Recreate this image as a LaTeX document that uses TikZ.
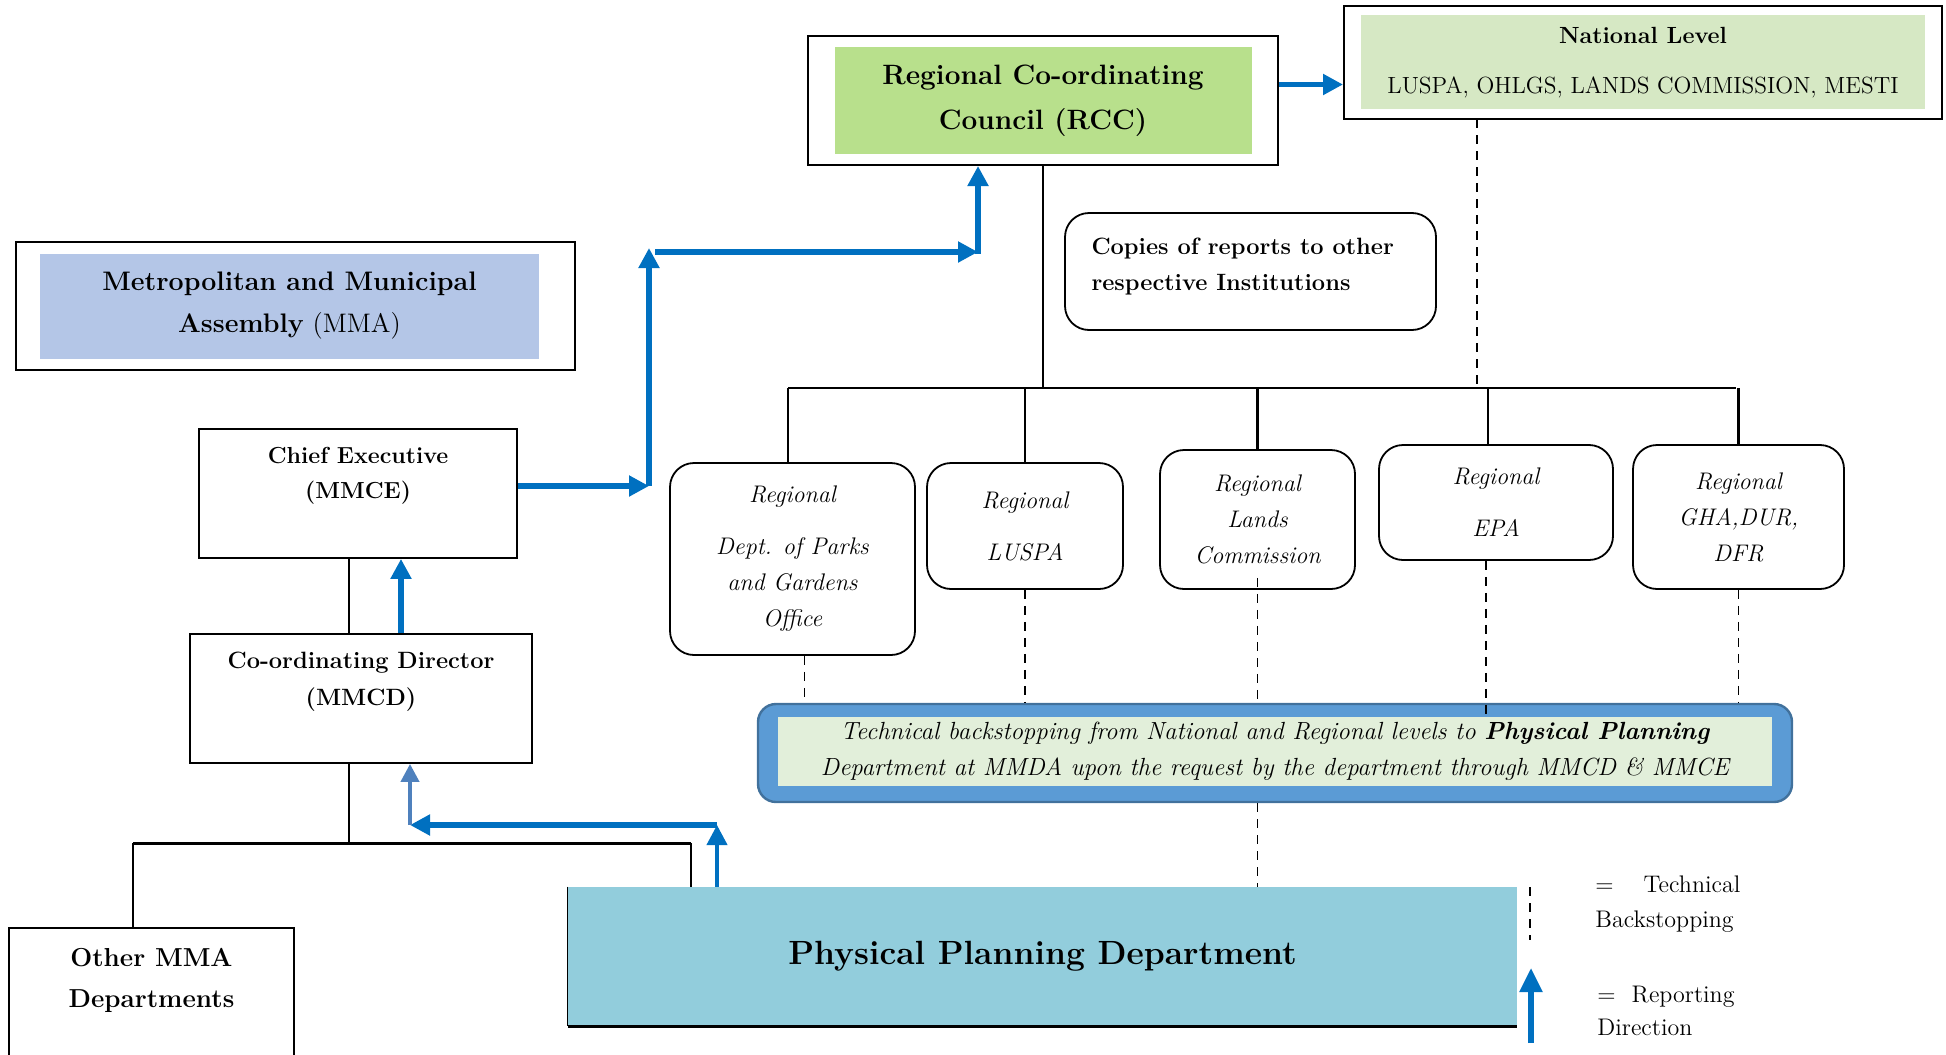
\documentclass[tikz,border=0pt]{standalone}
\usetikzlibrary{arrows.meta, positioning}
\definecolor{rccgreen}{RGB}{184,224,140}
\definecolor{natgreen}{RGB}{214,232,196}
\definecolor{mmablue}{RGB}{180,198,231}
\definecolor{techblue}{RGB}{91,155,213}
\definecolor{techedge}{RGB}{65,113,156}
\definecolor{techpale}{RGB}{226,239,218}
\definecolor{ppdblue}{RGB}{146,205,220}
\definecolor{repblue}{RGB}{0,112,192}
\definecolor{repsoft}{RGB}{79,129,189}

\begin{document}
\begin{tikzpicture}[x=0.5pt, y=-0.5pt,
  outerbox/.style={draw, line width=1pt, inner sep=0pt},
  fillbox/.style={inner sep=0pt, align=center},
  plainbox/.style={draw, line width=0.9pt, inner sep=0pt},
  regbox/.style={draw, rounded corners=12pt, line width=0.9pt, inner sep=0pt, align=center, font=\fontsize{12}{18}\selectfont\itshape},
  orgline/.style={line width=1.1pt},
  techline/.style={line width=0.7pt, dash pattern=on 4.5pt off 3.5pt},
  report/.style={draw=repblue, line width=2.6pt, -{Triangle[width=10pt,length=10pt]}},
  softreport/.style={draw=repsoft, line width=2pt, -{Triangle[width=9pt,length=9pt]}}]

\useasboundingbox (0,0) rectangle (1946,1054);

% regional and national level
\node[outerbox, minimum width=235pt, minimum height=64.5pt] (rcc) at (1043,100.5) {};
\node[fillbox, fill=rccgreen, minimum width=208.5pt, minimum height=53.5pt, font=\fontsize{14}{22.5}\selectfont\bfseries] (rcctext) at (rcc) {Regional Co-ordinating\\Council (RCC)};
\node[outerbox, minimum width=299pt, minimum height=56.5pt] (nat) at (1643,62.5) {};
\node[fillbox, fill=natgreen, minimum width=282pt, minimum height=47pt, font=\fontsize{11.7}{14}\selectfont] (nattext) at (nat) {\textbf{National Level}\\[11pt]LUSPA, OHLGS, LANDS COMMISSION, MESTI};
\node[draw, rounded corners=12pt, line width=0.9pt, minimum width=185.5pt, minimum height=58.5pt] (copies) at (1250.5,271.5) {};
\node[anchor=west, inner sep=0pt, align=left, font=\fontsize{11.8}{18}\selectfont\bfseries] (copiestext) at ([xshift=13.5pt,yshift=2.25pt]copies.west) {Copies of reports to other\\respective Institutions};

% assembly side
\node[outerbox, minimum width=279.5pt, minimum height=64pt] (mma) at (295.5,306) {};
\node[fillbox, fill=mmablue, minimum width=249.5pt, minimum height=52.5pt, font=\fontsize{13.4}{21}\selectfont] (mmatext) at ([xshift=-3pt]mma.center) {\textbf{Metropolitan and Municipal}\\\textbf{Assembly} (MMA)};
\node[plainbox, minimum width=159pt, minimum height=64.5pt] (ce) at (358,493.5) {};
\node[fillbox, font=\fontsize{11.6}{17.5}\selectfont\bfseries] (cetext) at ([yshift=9pt]ce.center) {Chief Executive\\(MMCE)};
\node[plainbox, minimum width=171pt, minimum height=64.5pt] (cd) at (361,698.5) {};
\node[fillbox, font=\fontsize{11.8}{18.5}\selectfont\bfseries] (cdtext) at ([yshift=8.5pt]cd.center) {Co-ordinating Director\\(MMCD)};
\node[plainbox, minimum width=142.5pt, minimum height=71pt] (other) at (151.5,999) {};
\node[fillbox, font=\fontsize{13}{20.5}\selectfont\bfseries] (othertext) at ([yshift=9.5pt]other.center) {Other MMA\\Departments};

% regional offices
\node[regbox, minimum width=122.5pt, minimum height=96pt] (parks) at (792.5,559) {Regional\\[8pt]Dept. of Parks\\and Gardens\\Office};
\node[regbox, minimum width=98pt, minimum height=63pt] (luspa) at (1025,526) {Regional\\[8pt]LUSPA};
\node[regbox, minimum width=97.5pt, minimum height=69.5pt] (lands) at (1257.5,519.5) {Regional\\Lands\\Commission};
\node[regbox, minimum width=117pt, minimum height=57.5pt] (epa) at (1496,502.5) {Regional\\[8pt]EPA};
\node[regbox, minimum width=105.5pt, minimum height=72pt] (gha) at (1738.5,517) {Regional\\GHA,DUR,\\DFR};

% backstopping and department
\node[fill=techblue, draw=techedge, line width=1.2pt, rounded corners=9pt, minimum width=517pt, minimum height=49pt, inner sep=0pt] (tech) at (1275,753) {};
\node[fillbox, fill=techpale, minimum width=497pt, minimum height=34.5pt, font=\fontsize{12.4}{18}\selectfont\itshape] (techtext) at ([yshift=0.75pt]tech.center) {Technical backstopping from National and Regional levels to \textbf{Physical Planning}\\Department at MMDA upon the request by the department through MMCD \& MMCE};
\node[fill=ppdblue, minimum width=474.5pt, minimum height=69.5pt, inner sep=0pt, font=\fontsize{16.8}{20}\selectfont\bfseries] (ppd) at (1042.5,956.5) {Physical Planning Department};
\draw[line width=1.3pt] (ppd.south west) -- (ppd.south east);
\draw[line width=0.6pt] (ppd.north west) -- (ppd.south west);

% organisation lines
\coordinate (busL) at (788,388);
\coordinate (busR) at (1736,388);
\draw[orgline] (rcc.south) -- (rcc.south |- busL);
\draw[orgline] (busL) -- (busR);
\draw[orgline] (busL) -- (busL |- parks.north);
\foreach \reg in {luspa, lands, gha}
  \draw[orgline] (\reg.north |- busL) -- (\reg.north);
\draw[orgline] ([xshift=-4pt]epa.north |- busL) -- ([xshift=-4pt]epa.north);

\coordinate (legx) at (349,0);
\coordinate (lbus) at (133,843);
\coordinate (rbus) at (691,843);
\draw[orgline] (ce.south -| legx) -- (cd.north -| legx);
\draw[orgline] (cd.south -| legx) -- (legx |- lbus);
\draw[line width=1.5pt] (lbus) -- (rbus);
\draw[orgline] (other.north -| lbus) -- (lbus);
\draw[orgline] (rbus) -- (rbus |- ppd.north);

% technical backstopping
\coordinate (natfoot) at (1477,119);
\draw[techline] (natfoot) -- (natfoot |- busL);
\draw[techline] ([xshift=6pt]parks.south) -- ([xshift=6pt]parks.south |- tech.north);
\draw[techline] (luspa.south) -- (luspa.south |- tech.north);
\draw[techline] ([yshift=6pt]lands.south) -- (lands.south |- tech.north);
\draw[techline] ([xshift=-5pt]epa.south) -- ([xshift=-5pt]epa.south |- techtext.north);
\draw[techline] (gha.south) -- (gha.south |- tech.north);
\draw[techline] (tech.south -| lands.south) -- (ppd.north -| lands.south);

% reporting direction
\coordinate (cejog) at (649,486);
\coordinate (topjog) at (649,252);
\coordinate (rccjog) at (978,252);
\draw[report] (ce.east |- cejog) -- (cejog);
\draw[report] (cejog) -- ([yshift=2pt]topjog);
\draw[report] ([xshift=3pt]topjog) -- (rccjog);
\draw[report] ([yshift=-1pt]rccjog) -- (rccjog |- rcc.south);
\draw[report] ([yshift=8pt]rcc.east) -- ([yshift=8pt]rcc.east -| nat.west);

\coordinate (repx) at (401,0);
\draw[report] (cd.north -| repx) -- (ce.south -| repx);

\coordinate (ppdup) at (717,825);
\coordinate (cdup) at (410,825);
\draw[report, line width=2pt] (ppd.north -| ppdup) -- (ppdup);
\draw[report] (ppdup) -- (cdup);
\draw[softreport] (cdup) -- (cd.south -| cdup);

% legend
\coordinate (legdash) at (1530,887);
\draw[techline] (legdash) -- ++(0,53);
\coordinate (legrep) at (1531,1043);
\draw[report, -{Triangle[width=11pt,length=12pt]}] (legrep) -- ++(0,-75);
\node[anchor=west, inner sep=0pt, align=left, font=\fontsize{12}{17.5}\selectfont] (legtech) at (1595,904) {=\hspace{15pt}Technical\\Backstopping};
\node[anchor=west, inner sep=0pt, align=left, font=\fontsize{12}{16.5}\selectfont] (legrepo) at (1597,1010.5) {=\hspace{8pt}Reporting\\Direction};
\end{tikzpicture}
\end{document}
